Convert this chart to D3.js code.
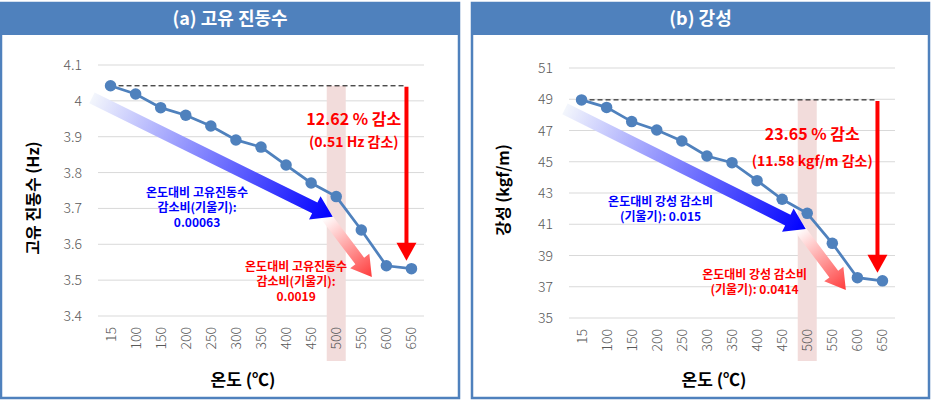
<!DOCTYPE html>
<html><head><meta charset="utf-8">
<script src="https://cdn.jsdelivr.net/npm/d3@7"></script>
<style>body{margin:0;background:#fff;}svg{display:block;font-family:"Noto Sans CJK KR","Noto Sans",sans-serif;}</style>
</head><body><svg id="c" width="931" height="400"></svg>
<script>
const categories = ["15","100","150","200","250","300","350","400","450","500","550","600","650"];
const freqValues = [4.042,4.019,3.981,3.96,3.93,3.891,3.871,3.821,3.771,3.733,3.64,3.54,3.532];
const stiffValues = [48.96,48.48,47.57,47.03,46.33,45.37,44.94,43.79,42.6,41.7,39.78,37.58,37.38];
const freqTicks = [3.4,3.5,3.6,3.7,3.8,3.9,4,4.1];
const stiffTicks = [35,37,39,41,43,45,47,49,51];

const panels = [
  {title:"(a) 고유 진동수", ytitle:"고유 진동수 (Hz)", values:freqValues, ticks:freqTicks,
   fmt:d=>d3.format("")(d), frame:[1,459], xr:[98,424], yd:[3.4,4.1], yr:[316,65],
   pct:"12.62 % 감소", abs:"(0.51 Hz 감소)", labelIdx:9.7, pctV:3.932, absV:3.872,
   blueArrow:[[-0.74,4.008],[8.86,3.677]], redArrow:[[8.6,3.677],[10.42,3.509]],
   blueText:["온도대비 고유진동수","감소비(기울기):","0.00063"], blueAt:[3.45,3.731],
   redText:["온도대비 고유진동수","감소비(기울기):","0.0019"], redAt:[7.4,3.526],
   ytX:33, ytY:198},
  {title:"(b) 강성", ytitle:"강성 (kgf/m)", values:stiffValues, ticks:stiffTicks,
   fmt:d=>d, frame:[472,929], xr:[569,895], yd:[35,51], yr:[318,68],
   pct:"23.65  % 감소", abs:"(11.58 kgf/m 감소)", labelIdx:9.2, pctV:46.4, absV:44.75,
   blueArrow:[[-0.66,48.38],[8.94,40.7]], redArrow:[[8.7,40.7],[10.54,36.79]],
   blueText:["온도대비 강성 감소비","(기울기): 0.015"], blueAt:[3.15,42.15],
   redText:["온도대비 강성 감소비","(기울기): 0.0414"], redAt:[6.9,37.48],
   ytX:503, ytY:190}
];

const svg = d3.select("#c");
const defs = svg.append("defs");
const C = "#4F81BD";

function arrowPoly(x1,y1,x2,y2,shaft,headW,headL){
  const dx=x2-x1, dy=y2-y1, L=Math.hypot(dx,dy), ux=dx/L, uy=dy/L, px=-uy, py=ux;
  const bx=x2-ux*headL, by=y2-uy*headL;
  return [[x1+px*shaft/2,y1+py*shaft/2],[bx+px*shaft/2,by+py*shaft/2],[bx+px*headW/2,by+py*headW/2],[x2,y2],
          [bx-px*headW/2,by-py*headW/2],[bx-px*shaft/2,by-py*shaft/2],[x1-px*shaft/2,y1-py*shaft/2]];
}

panels.forEach((p,pi)=>{
  const g = svg.append("g");
  const cx = (p.frame[0]+p.frame[1])/2;
  g.append("rect").attr("x",p.frame[0]).attr("y",3).attr("width",p.frame[1]-p.frame[0]).attr("height",395)
    .attr("fill","#fff").attr("stroke",C).attr("stroke-width",2.5);
  g.append("rect").attr("x",p.frame[0]-1).attr("y",2).attr("width",p.frame[1]-p.frame[0]+2).attr("height",33).attr("fill",C);
  g.append("text").attr("x",cx).attr("y",25).attr("text-anchor","middle").attr("fill","#fff")
    .attr("font-size",18).attr("font-weight","bold").text(p.title);

  const x = d3.scalePoint().domain(categories).range(p.xr).padding(0.5);
  const xi = d3.scaleLinear().domain([0,categories.length-1]).range([x(categories[0]),x(categories[categories.length-1])]);
  const y = d3.scaleLinear().domain(p.yd).range(p.yr);

  g.append("g").selectAll("line").data(p.ticks).join("line")
    .attr("x1",p.xr[0]).attr("x2",p.xr[1]).attr("y1",d=>y(d)).attr("y2",d=>y(d))
    .attr("stroke","#D9D9D9").attr("stroke-width",1);
  g.append("g").selectAll("text").data(p.ticks).join("text")
    .attr("x",p.xr[0]-16).attr("y",d=>y(d)+5).attr("text-anchor","end").attr("fill","#595959")
    .attr("font-size",14).attr("font-weight",300).text(p.fmt);

  const bx = x("500");
  const y0 = y(p.values[0]);
  g.append("rect").attr("x",bx-9.5).attr("width",19).attr("y",y0).attr("height",361-y0)
    .attr("fill","#F2DCDB");

  g.append("g").selectAll("text").data(categories).join("text")
    .attr("transform",d=>`translate(${x(d)+5},${p.yr[0]+11}) rotate(-90)`)
    .attr("text-anchor","end").attr("fill","#595959").attr("font-size",14).attr("font-weight",300).text(d=>d);

  g.append("text").attr("transform",`translate(${p.ytX},${p.ytY}) rotate(-90)`).attr("text-anchor","middle")
    .attr("font-size",16).attr("font-weight","bold").attr("fill","#000").attr("dy","0.35em").text(p.ytitle);
  g.append("text").attr("x",(p.xr[0]+p.xr[1])/2-18).attr("y",386).attr("text-anchor","middle")
    .attr("font-size",17).attr("font-weight","bold").attr("fill","#000").text("온도 (℃)");

  const bgId="bg"+pi, rgId="rg"+pi;
  const [ba,bb]=p.blueArrow.map(d=>[xi(d[0]),y(d[1])]);
  const [ra,rb]=p.redArrow.map(d=>[xi(d[0]),y(d[1])]);
  const lg1=defs.append("linearGradient").attr("id",bgId).attr("gradientUnits","userSpaceOnUse")
    .attr("x1",ba[0]).attr("y1",ba[1]).attr("x2",bb[0]).attr("y2",bb[1]);
  lg1.append("stop").attr("offset",0).attr("stop-color","#F3F6FC");
  lg1.append("stop").attr("offset",1).attr("stop-color","#0000FF");
  const lg2=defs.append("linearGradient").attr("id",rgId).attr("gradientUnits","userSpaceOnUse")
    .attr("x1",ra[0]).attr("y1",ra[1]).attr("x2",rb[0]).attr("y2",rb[1]);
  lg2.append("stop").attr("offset",0).attr("stop-color","#FFFFFF");
  lg2.append("stop").attr("offset",1).attr("stop-color","#FF3B3B");
  g.append("polygon").attr("points",arrowPoly(ra[0],ra[1],rb[0],rb[1],11,24,20).map(d=>d.join(",")).join(" "))
    .attr("fill",`url(#${rgId})`);
  g.append("polygon").attr("points",arrowPoly(ba[0],ba[1],bb[0],bb[1],12,26,20).map(d=>d.join(",")).join(" "))
    .attr("fill",`url(#${bgId})`);

  const xl = xi(12)-5;
  g.append("line").attr("x1",x(categories[0])).attr("x2",xl).attr("y1",y0).attr("y2",y0)
    .attr("stroke","#000").attr("stroke-width",1).attr("stroke-dasharray","5,3");

  const line = d3.line().x((d,i)=>x(categories[i])).y(d=>y(d));
  g.append("path").attr("d",line(p.values)).attr("fill","none").attr("stroke",C).attr("stroke-width",2.75);
  g.append("g").selectAll("circle").data(p.values).join("circle")
    .attr("cx",(d,i)=>x(categories[i])).attr("cy",d=>y(d)).attr("r",5.75).attr("fill",C);

  const yEnd = y(p.values[12]) - 8;
  g.append("line").attr("x1",xl).attr("x2",xl).attr("y1",y0+1).attr("y2",yEnd-16)
    .attr("stroke","#FF0000").attr("stroke-width",4);
  g.append("polygon").attr("points",[[xl-10,yEnd-18],[xl+10,yEnd-18],[xl,yEnd]].map(d=>d.join(",")).join(" "))
    .attr("fill","#FF0000");

  const lx = xi(p.labelIdx);
  g.append("text").attr("x",lx).attr("y",y(p.pctV)).attr("text-anchor","middle").attr("fill","#FF0000")
    .attr("font-size",16).attr("font-weight","bold").text(p.pct);
  g.append("text").attr("x",lx).attr("y",y(p.absV)).attr("text-anchor","middle").attr("fill","#FF0000")
    .attr("font-size",14).attr("font-weight","bold").text(p.abs);

  const bt = g.append("text").attr("text-anchor","middle").attr("fill","#0000FF").attr("font-size",12).attr("font-weight","bold");
  p.blueText.forEach((t,i)=>bt.append("tspan").attr("x",xi(p.blueAt[0])).attr("y",y(p.blueAt[1])+i*15).text(t));
  const rt = g.append("text").attr("text-anchor","middle").attr("fill","#FF0000").attr("font-size",12).attr("font-weight","bold");
  p.redText.forEach((t,i)=>rt.append("tspan").attr("x",xi(p.redAt[0])).attr("y",y(p.redAt[1])+i*15).text(t));
});
</script></body></html>
